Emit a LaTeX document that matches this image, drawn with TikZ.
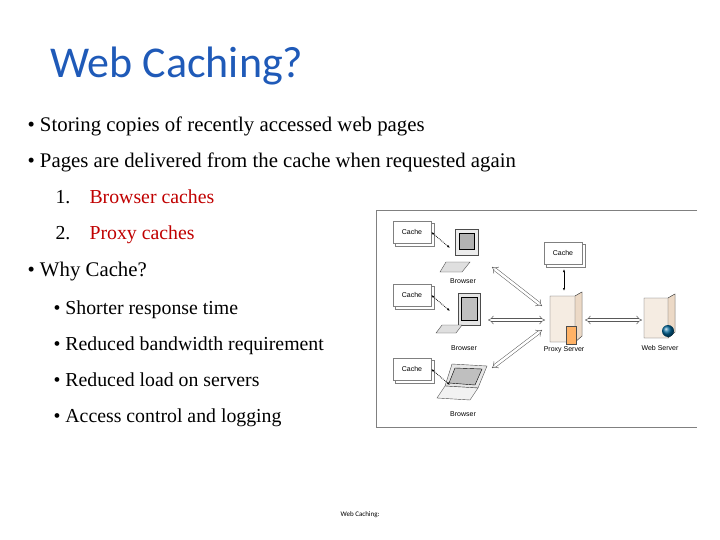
\documentclass[tikz,border=0pt]{standalone}
\usepackage{fontspec}
\setmainfont{Liberation Serif}
\newfontfamily\calib{Carlito}
\newfontfamily\arialf{Liberation Sans}
\usetikzlibrary{arrows.meta}
\definecolor{titleblue}{HTML}{1F5AB8}
\definecolor{redtxt}{HTML}{C00000}
\tikzset{
  bul/.style={anchor=base west,font=\fontsize{20.8}{24}\selectfont},
  sbul/.style={anchor=base west,font=\fontsize{19.8}{23}\selectfont},
  cachebox/.style={draw=gray,fill=white,minimum width=38pt,minimum height=22pt,font=\arialf\fontsize{7}{8}\selectfont,inner sep=0pt},
  lbl/.style={font=\arialf\fontsize{7}{8}\selectfont},
  hollow/.style={double=white,draw=gray!70!black,double distance=2.5pt,line width=0.5pt,{Implies}-{Implies}},
  small/.style={densely dotted,{Latex[length=3pt]}-{Latex[length=3pt]},thick},
  beige/.style={draw=gray!60!black,fill=brown!15,line width=0.4pt}
}
\begin{document}
\begin{tikzpicture}[x=1pt,y=-1pt]
\useasboundingbox (0,0) rectangle (720,540);
\node[anchor=base west,text=titleblue,font=\calib\fontsize{44}{48}\selectfont,inner sep=0pt] (title) at (50,78) {Web Caching?};
\node[bul] (b1) at (24,132) {\textbullet\ Storing copies of recently accessed web pages};
\node[bul] (b2) at (24,168) {\textbullet\ Pages are delivered from the cache when requested again};
\node[sbul] (n1) at (52,204) {1.};
\node[sbul,text=redtxt] (n1t) at (86,204) {Browser caches};
\node[sbul] (n2) at (52,240) {2.};
\node[sbul,text=redtxt] (n2t) at (86,240) {Proxy caches};
\node[bul] (b3) at (24,276) {\textbullet\ Why Cache?};
\node[sbul] (s1) at (50,314) {\textbullet\ Shorter response time};
\node[sbul] (s2) at (50,350) {\textbullet\ Reduced bandwidth requirement};
\node[sbul] (s3) at (50,386) {\textbullet\ Reduced load on servers};
\node[sbul] (s4) at (50,422) {\textbullet\ Access control and logging};
\node[font=\calib\fontsize{7}{8}\selectfont] (foot) at (360,515) {Web Caching:};
% frame
\draw[gray,line width=0.8pt] (697,210) -- (376,210) -- (376,427) -- (697,427);
% cache boxes
\foreach \n/\x/\y in {c1/412/232, c2/412/295, c3/412/369, c4/563/253}{
  \draw[gray,fill=white] (\x-17,\y-9) rectangle (\x+22,\y+14);
  \node[cachebox] (\n) at (\x,\y) {Cache};
}
% desktop 1
\draw[beige,fill=gray!15] (455,229) rectangle (478,255);
\draw[fill=gray!60] (459,233) rectangle (474,249);
\draw[beige,fill=gray!25] (446,262) -- (470,262) -- (462,272) -- (440,272) -- cycle;
\coordinate (pc1) at (450,248);
\node[lbl] (l1) at (463,281) {Browser};
% monitor 2
\draw[beige,fill=gray!20] (458,293) rectangle (480,325);
\draw[fill=gray!50] (461,297) rectangle (477,320);
\draw[beige,fill=gray!25] (442,325) -- (462,325) -- (456,333) -- (436,333) -- cycle;
\coordinate (pc2) at (450,311);
\node[lbl] (l2) at (464,348) {Browser};
% laptop
\draw[beige,fill=gray!20] (452,364) -- (487,366) -- (478,388) -- (445,386) -- cycle;
\draw[fill=gray!50] (455,368) -- (482,369) -- (475,385) -- (449,383) -- cycle;
\draw[beige,fill=gray!10] (445,386) -- (478,388) -- (470,400) -- (437,398) -- cycle;
\coordinate (pc3) at (450,385);
\node[lbl] (l3) at (463,414) {Browser};
% proxy server
\draw[beige] (550,296) -- (575,296) -- (582,292) -- (582,336) -- (575,342) -- (550,342) -- cycle;
\draw[beige,fill=brown!30] (575,296) -- (582,292) -- (582,336) -- (575,342) -- cycle;
\draw[beige,fill=orange!60] (566,326) rectangle (576,344);
\node[inner sep=0pt,minimum width=30pt,minimum height=46pt] (px) at (565,318) {};
\node[lbl] (lp) at (564,350) {Proxy Server};
% web server
\draw[beige] (644,298) -- (668,298) -- (675,294) -- (675,332) -- (668,338) -- (644,338) -- cycle;
\draw[beige,fill=brown!30] (668,298) -- (675,294) -- (675,332) -- (668,338) -- cycle;
\shade[ball color=blue!60!green] (668,331) circle (6);
\node[inner sep=0pt,minimum width=30pt,minimum height=42pt] (ws) at (660,318) {};
\node[lbl] (lw) at (660,348) {Web Server};
% arrows
\coordinate (a1) at (492,267); \coordinate (a2) at (488,320); \coordinate (a3) at (492,368);
\coordinate (p1) at (542,306); \coordinate (p2) at (545,320); \coordinate (p3) at (542,330);
\draw[hollow] (a1) -- (p1);
\draw[hollow] (a2) -- (p2);
\draw[hollow] (a3) -- (p3);
\coordinate (pe) at (585,320);
\draw[hollow] (pe) -- (642,320);
\draw[small] (c1.east) -- (pc1);
\draw[small] (c2.east) -- (pc2);
\draw[small] (c3.east) -- (pc3);
\coordinate (c4b) at (564,269);
\draw[{Latex[length=3pt]}-{Latex[length=3pt]},thick] (c4b) -- (564,291);
\end{tikzpicture}
\end{document}
